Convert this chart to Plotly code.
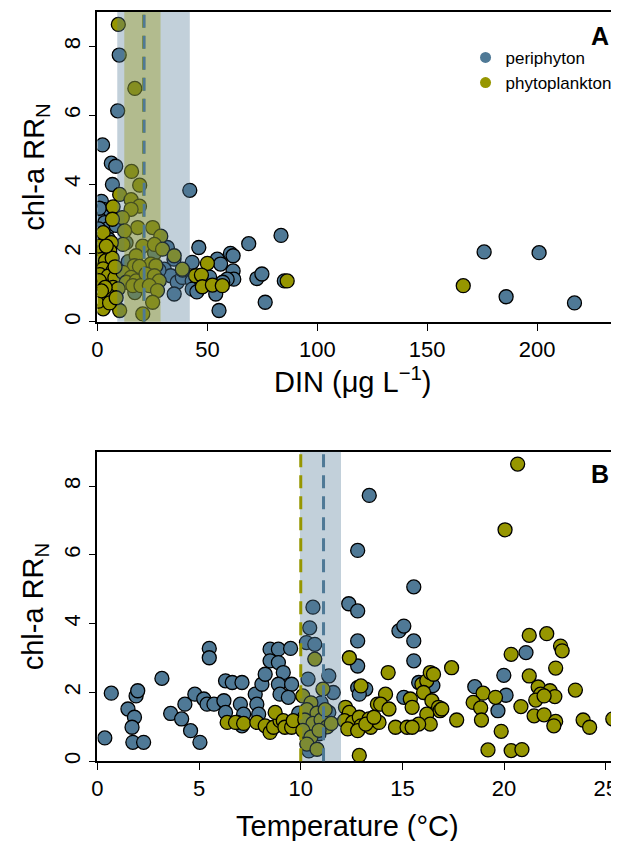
import plotly.graph_objects as go

# ---------------- data ----------------
# Panel A: DIN (ug/L) vs chl-a RR_N
peri_din = [9.9, 9.2, 2.3, 6.3, 8.3, 6.8, 42, 1.8, 2.6, 5.6, 1.1, 3.3, 3.8, 1.3, 7.6, 0.8, 4.5, 2.0, 5.0, 0.5,
            3.0, 6.0, 1.0, 8.5, 0.6, 1.5, 4.0,
            31.8, 34.8, 46.1, 43.1, 30.4, 33.3, 36.3, 38.6, 43.1, 34.9, 43.1, 38.7,
            68.8, 83.5, 54.5, 56, 60.5, 61.7, 61.7, 62, 72.5, 74.8, 85, 53.8, 76.3, 55.3, 59, 45.2, 47.5, 51, 57,
            175.9, 200.9, 185.9, 217,
            13, 14, 20, 22, 17, 26, 28]
peri_rr_a = [7.75, 6.13, 5.14, 4.61, 4.52, 3.99, 3.82, 3.5, 3.27, 3.07, 2.97, 2.88, 2.5, 2.4, 3.0, 3.3, 2.7, 2.2, 2.4, 1.9,
             1.6, 1.2, 1.0, 2.8, 2.7, 1.4, 1.9,
             2.16, 1.82, 2.16, 1.73, 1.53, 1.34, 1.15, 1.29, 1.19, 0.81, 0.95, 1.5,
             2.27, 2.51, 1.82, 1.68, 1.99, 1.92, 1.48, 1.24, 1.26, 1.39, 1.19, 0.81, 0.57, 0.33, 1.24, 0.87, 1.15, 1.3, 1.15,
             2.03, 2.01, 0.73, 0.55,
             2.3, 1.75, 1.45, 1.1, 0.85, 2.0, 1.5]
phyto_din = [9.5, 17, 15.5, 19.2, 10.1, 15.3, 19.1, 7.1, 15.3, 11.3, 6.8, 18.3, 25.1, 28.8, 12.3, 2.6, 11.6, 6.3,
             20.6, 25.9, 29.6, 2.6, 5.6, 17.6, 38.6, 34.9, 1.0, 3.7, 6.7, 24.3, 26.6, 16.8, 19.1, 2.6, 7.1, 1.1,
             4.9, 7.9, 44.6, 11.6, 15.3, 13.1, 17.6, 22.1, 25.9, 28.1, 2.6, 7.1, 9.4, 16.1, 19.8, 23.6, 27.3,
             25.1, 20.6, 2.6, 10.1, 0.5, 4.9, 50, 47.3, 47.7, 52.3, 56.8, 86.3, 166.4,
             0.8, 3.5, 5.5, 8, 0.5, 4, 1.8, 8.5]
phyto_rr_a = [8.64, 6.78, 4.37, 3.97, 3.7, 3.55, 3.36, 3.34, 3.27, 3.03, 2.98, 2.74, 2.74, 2.49, 2.64, 2.59, 2.25, 2.3,
              2.2, 2.25, 2.11, 2.06, 2.06, 1.92, 1.53, 1.92, 1.83, 1.77, 1.85, 1.68, 1.63, 1.63, 1.61, 1.54, 1.49, 1.37,
              1.33, 1.28, 1.34, 1.44, 1.29, 1.15, 1.19, 1.39, 1.34, 1.19, 1.05, 1.0, 0.96, 1.05, 1.05, 1.05, 0.91,
              0.57, 0.23, 0.38, 0.33, 0.6, 0.77, 1.7, 1.36, 1.02, 1.07, 1.05, 1.19, 1.05,
              1.2, 1.0, 0.55, 1.6, 2.2, 2.2, 0.9, 0.7]

# Panel B: Temperature (degC) vs chl-a RR_N
peri_temp = [0.36, 0.68, 1.5, 1.82, 1.7, 1.9, 1.98, 1.74, 2.27, 3.17, 3.6, 4.14, 4.3, 4.58, 4.79, 5.23, 5.39, 5.04,
             5.5, 5.5, 5.73, 6.22, 6.3, 6.3, 6.63, 7.11, 7.03, 7.19, 7.11, 6.87, 7.76, 7.84, 8.09, 8.25, 8.49, 8.9,
             9.5, 8.49, 8.9, 9.14, 8.9, 8.98, 9.55, 9.39, 7.93, 9.9,
             10.6, 10.44, 10.28, 10.69, 10.36, 11.38, 11.6, 11.38, 10.4, 10.9, 10.2, 11.0,
             15.56, 12.36, 12.8, 12.8, 14.83, 15.07, 15.56, 15.56, 12.8, 12.8, 13.2, 12.88, 15.07, 15.8, 13.37, 12.8,
             21.08, 19.99, 18.56, 20.1, 19.7, 16.5]
peri_rr_b = [0.68, 1.98, 1.52, 1.28, 0.99, 1.9, 2.05, 0.55, 0.55, 2.41, 1.39, 1.23, 1.66, 0.89, 1.95, 1.81, 1.66, 0.55,
             3.28, 3.01, 1.66, 1.76, 1.42, 2.34, 2.29, 2.29, 1.66, 1.37, 1.03, 1.13, 1.95, 1.66, 2.24, 2.53, 3.26, 3.26,
             3.28, 2.92, 2.87, 2.58, 2.24, 1.95, 2.24, 1.86, 1.37, 1.4,
             4.48, 3.88, 3.45, 3.4, 2.39, 2.48, 2.0, 1.42, 0.3, 0.8, 1.3, 1.7,
             5.07, 4.58, 4.37, 3.5, 3.79, 3.93, 3.5, 2.92, 2.77, 2.14, 2.1, 1.95, 1.86, 2.29, 7.73, 6.13,
             3.16, 2.5, 2.17, 1.92, 1.47, 2.2]
phyto_temp = [6.38, 6.79, 7.19, 7.84, 8.25, 8.49, 8.66, 8.98, 8.74, 9.14, 9.22, 9.55, 9.63,
              10.69, 11.09,
              10.1, 10.5, 10.3, 10.8, 10.2, 10.6, 11.0, 11.3, 10.1, 10.5, 10.3, 10.8, 11.2, 10.9, 11.5,
              12.39, 14.3, 17.42, 12.96, 14.17, 15.96, 16.2, 16.37, 16.53, 16.04, 16.45, 16.78, 16.85, 15.39, 15.48,
              16.2, 16.37, 15.8, 14.66, 15.23, 15.48, 13.77, 13.93, 14.34, 12.2, 12.39, 12.15, 12.55, 12.88, 12.96,
              13.36, 13.44, 13.85, 12.31, 12.8, 13.2, 13.6, 12.88, 17.67,
              20.67, 20.05, 21.24, 22.1, 22.78, 22.86, 20.35, 22.54, 21.24, 18.97, 21.68, 22.26, 22.5, 21.8, 23.51,
              19.58, 18.48, 18.85, 20.83, 21.56, 21.97, 21.48, 21.97, 22.54, 22.45, 18.89, 23.89, 24.21, 25.35,
              19.86, 19.21, 20.35, 20.88, 16.94]
phyto_rr_b = [1.13, 1.13, 1.10, 1.13, 1.03, 0.84, 0.99, 1.18, 1.42, 1.18, 0.99, 0.99, 1.18,
              2.97, 2.1,
              1.9, 1.7, 1.5, 1.4, 1.2, 1.1, 1.2, 1.0, 0.9, 0.7, 0.5, 0.35, 1.5, 0.9, 1.1,
              3.01, 2.58, 2.72, 2.19, 1.95, 2.24, 2.34, 2.58, 2.53, 2.0, 1.76, 1.57, 1.47, 1.81, 1.57,
              1.37, 1.08, 1.08, 0.99, 0.99, 0.99, 1.66, 1.66, 1.52, 1.57, 1.42, 1.18, 1.13, 1.28, 1.03,
              1.23, 0.99, 1.13, 0.94, 0.89, 1.08, 1.28, 0.17, 1.2,
              8.64, 6.73, 3.66, 3.71, 3.35, 3.21, 3.11, 2.71, 2.48, 1.98, 2.16, 2.05, 1.88, 1.95, 2.07,
              1.86, 1.71, 1.55, 1.59, 1.78, 1.9, 1.32, 1.35, 1.16, 1.03, 1.2, 1.2, 0.99, 1.23,
              0.87, 0.33, 0.31, 0.34, 1.52]

# threshold estimates (dashed) and confidence bands
din_peri_thr, din_peri_ci = 21.2, (9.0, 42.0)
din_phyto_thr, din_phyto_ci = 21.0, (12.2, 28.7)
temp_peri_thr, temp_peri_ci = 11.12, (9.96, 11.98)
temp_phyto_thr = 10.0

series_names = ["periphyton", "phytoplankton"]
x_ticks_a = [0, 50, 100, 150, 200]
x_ticks_b = [0, 5, 10, 15, 20, 25]
y_ticks = [0, 2, 4, 6, 8]

# ---------------- styling ----------------
WIN_W, WIN_H = 619, 841
OFF = 8                      # default page body margin
W, H = WIN_W - OFF, WIN_H - OFF
BLUE = "rgb(79,121,150)"
OLIVE = "rgb(150,150,0)"
FONT = "Liberation Sans, Arial, sans-serif"

def fx(px):   # window pixel -> paper x
    return (px - OFF) / W

def fy(py):   # window pixel -> paper y
    return 1 - (py - OFF) / H

fig = go.Figure()

def pts(x, y, color, xa, ya):
    fig.add_trace(go.Scatter(
        x=x, y=y, mode="markers", xaxis=xa, yaxis=ya, showlegend=False,
        marker=dict(size=14, color=color, line=dict(color="black", width=1.3)),
        cliponaxis=True))

pts(peri_din, peri_rr_a, BLUE, "x", "y")
pts(phyto_din, phyto_rr_a, OLIVE, "x", "y")
pts(peri_temp, peri_rr_b, BLUE, "x2", "y2")
pts(phyto_temp, phyto_rr_b, OLIVE, "x2", "y2")

# legend entries (no outline)
for name, col in zip(series_names, [BLUE, OLIVE]):
    fig.add_trace(go.Scatter(x=[None], y=[None], mode="markers", name=name, xaxis="x", yaxis="y",
                             marker=dict(size=11, color=col, line=dict(width=0))))

a_top, a_bot = 12, 323
b_top, b_bot = 453.3, 764
left = 92.3
x_a_max = (WIN_W - left) / 2.22
x_b_max = (WIN_W - left) / 20.53

axis_common = dict(showline=True, linecolor="black", linewidth=1.5, ticks="outside", ticklen=7,
                   tickwidth=1.3, tickcolor="black", showgrid=False, zeroline=False,
                   tickfont=dict(family=FONT, size=22, color="black"))

fig.update_layout(
    width=W, height=H, margin=dict(l=0, r=0, t=0, b=0),
    paper_bgcolor="white", plot_bgcolor="white",
    xaxis=dict(domain=[fx(left), 1], range=[0, x_a_max], tickvals=x_ticks_a, mirror=True, anchor="y",
               **axis_common),
    yaxis=dict(domain=[fy(a_bot), fy(a_top)], range=[0, 9], tickvals=y_ticks,
               tickangle=-90, anchor="x", **axis_common),
    xaxis2=dict(domain=[fx(left), 1], range=[0, x_b_max], tickvals=x_ticks_b, mirror=True, anchor="y2",
                **axis_common),
    yaxis2=dict(domain=[fy(b_bot), fy(b_top)], range=[0, 9], tickvals=y_ticks,
                tickangle=-90, anchor="x2", **axis_common),
    legend=dict(x=fx(464), y=fy(40), xanchor="left", yanchor="top",
                font=dict(family=FONT, size=17, color="black"), bgcolor="rgba(0,0,0,0)",
                tracegroupgap=0, itemsizing="trace"),
)

shapes = []
def band(x0, x1, color, xref, yref):
    shapes.append(dict(type="rect", xref=xref, yref=yref + " domain", x0=x0, x1=x1, y0=0, y1=1,
                       fillcolor=color, line=dict(width=0), layer="above"))
def vline(x, color, xref, yref):
    shapes.append(dict(type="line", xref=xref, yref=yref + " domain", x0=x, x1=x, y0=0, y1=1,
                       line=dict(color=color, width=3, dash="13px,8px"), layer="above"))

band(din_peri_ci[0], din_peri_ci[1], "rgba(79,121,150,0.35)", "x", "y")
band(din_phyto_ci[0], din_phyto_ci[1], "rgba(150,150,0,0.35)", "x", "y")
vline(din_phyto_thr, OLIVE, "x", "y")
vline(din_peri_thr, BLUE, "x", "y")
band(temp_peri_ci[0], temp_peri_ci[1], "rgba(79,121,150,0.35)", "x2", "y2")
vline(temp_phyto_thr, OLIVE, "x2", "y2")
vline(temp_peri_thr, BLUE, "x2", "y2")
fig.update_layout(shapes=shapes)

ann = []
def text(x, y, s, size, angle=0):
    ann.append(dict(xref="paper", yref="paper", x=fx(x), y=fy(y), text=s, showarrow=False,
                    xanchor="center", yanchor="middle", textangle=angle,
                    font=dict(family=FONT, size=size, color="black")))
text(600, 36, "<b>A</b>", 25)
text(600, 476, "<b>B</b>", 25)
text(30, (a_top + a_bot) / 2, "chl-a RR<sub>N</sub>", 29, angle=-90)
text(30, (b_top + b_bot) / 2, "chl-a RR<sub>N</sub>", 29, angle=-90)
text(350, 381, "DIN (μg L<sup>−1</sup>)", 29)
text(345, 829, "Temperature (°C)", 29)
fig.update_layout(annotations=ann)

fig.write_html("out.html")
